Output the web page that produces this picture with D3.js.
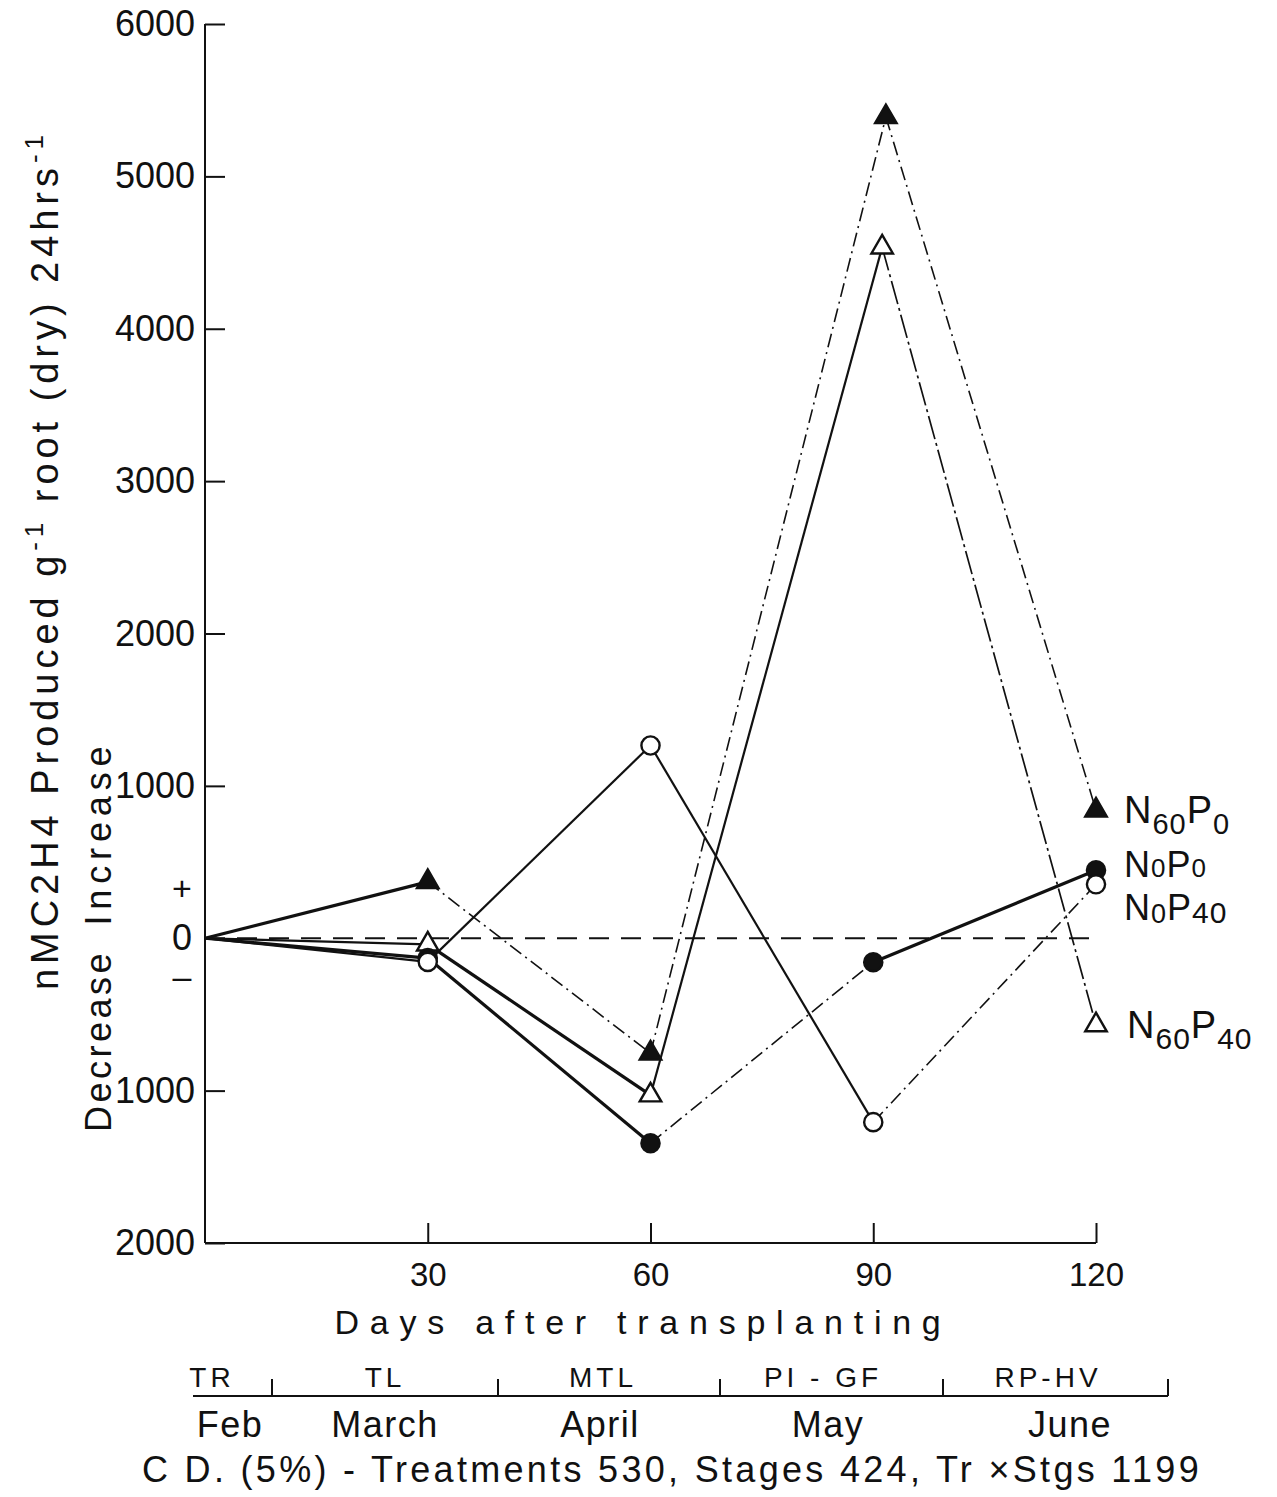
<!DOCTYPE html>
<html><head><meta charset="utf-8">
<script src="https://cdn.jsdelivr.net/npm/d3@7"></script>
<style>body{margin:0;background:#fff}svg{display:block}text{font-family:"Liberation Sans",Arial,sans-serif;fill:#111}</style>
</head><body>
<svg id="c" width="1277" height="1497"></svg>
<script>
// ---- data ----
const dayTicks = [30, 60, 90, 120];
const yTickValues = [-2000, -1000, 1000, 2000, 3000, 4000, 5000, 6000];
const n60p0Days = [0, 30, 60, 91.7, 120];
const n60p0 = [0, 370, -755, 5390, 840];
const n60p40Days = [0, 30, 60, 91.2, 120];
const n60p40 = [0, -40, -1030, 4535, -570];
const n0p0Days = [0, 30, 60, 90, 120];
const n0p0 = [0, -130, -1345, -157, 446];
const n0p40Days = [0, 30, 60, 90, 120];
const n0p40 = [0, -155, 1265, -1207, 354];
const stages = ["TR", "TL", "MTL", "PI - GF", "RP-HV"];
const months = ["Feb", "March", "April", "May", "June"];

// ---- layout ----
const svg = d3.select("#c");
const x = d3.scaleLinear().domain([0, 120]).range([205, 1096]);
const y = d3.scaleLinear().domain([-2000, 6000]).range([1243, 24]);

function fit(sel, target) {
  sel.style("letter-spacing", "0px");
  const node = sel.node();
  const nat = node.getComputedTextLength();
  const n = node.textContent.length;
  sel.style("letter-spacing", ((target - nat) / n) + "px");
  return sel;
}

// axes
const yAxis = d3.axisLeft(y).tickValues(yTickValues).tickSize(-20).tickPadding(10)
  .tickFormat(d => Math.abs(d));
const gy = svg.append("g").attr("transform", `translate(${x(0)},0)`).call(yAxis);
gy.selectAll("path,line").attr("stroke", "#111").attr("stroke-width", 2);
gy.selectAll("text").style("font-size", "36px").attr("fill", "#111");
gy.select(".domain").attr("d", `M0,${y(6000)}V${y(-2000)}`);

const xAxis = d3.axisBottom(x).tickValues(dayTicks).tickSize(-20).tickPadding(20)
  .tickFormat(d => d);
const gx = svg.append("g").attr("transform", `translate(0,${y(-2000)})`).call(xAxis);
gx.selectAll("path,line").attr("stroke", "#111").attr("stroke-width", 2);
gx.select(".domain").attr("d", `M${x(0)},0H${x(120)}`);
gx.selectAll("text").style("font-size", "33px").attr("fill", "#111");

// zero dashed line
svg.append("line").attr("x1", x(0)).attr("x2", x(120.5)).attr("y1", y(0)).attr("y2", y(0))
  .attr("stroke", "#111").attr("stroke-width", 2).attr("stroke-dasharray", "20 12");

// + 0 - signs
svg.append("text").attr("x", 182).attr("y", y(0) - 38).attr("text-anchor", "middle").style("font-size", "34px").text("+");
svg.append("text").attr("x", 182).attr("y", y(0) + 12).attr("text-anchor", "middle").style("font-size", "36px").text("0");
svg.append("text").attr("x", 182).attr("y", y(0) + 50).attr("text-anchor", "middle").style("font-size", "34px").text("–");

// y labels
const yl = svg.append("text").attr("transform", "translate(58,560) rotate(-90)")
  .attr("text-anchor", "middle").style("font-size", "38px");
yl.append("tspan").text("nMC2H4 Produced g");
yl.append("tspan").attr("baseline-shift", "super").style("font-size", "26px").text("-1");
yl.append("tspan").text(" root (dry) 24hrs");
yl.append("tspan").attr("baseline-shift", "super").style("font-size", "26px").text("-1");
fit(yl, 860);

fit(svg.append("text").attr("transform", "translate(111,1041) rotate(-90)").attr("text-anchor", "middle")
  .style("font-size", "36px").text("Decrease"), 182);
fit(svg.append("text").attr("transform", "translate(111,833) rotate(-90)").attr("text-anchor", "middle")
  .style("font-size", "36px").text("Increase"), 185);

// series
const styles = {
  solidThick: {w: 3.2, dash: null},
  solid: {w: 2.2, dash: null},
  dashdot: {w: 1.6, dash: "14 5 2 5"},
  longdash: {w: 1.7, dash: "24 4 3 4"}
};
const series = [
  {days: n60p0Days, vals: n60p0, marker: "tri", fill: "#111", seg: ["solidThick", "dashdot", "dashdot", "dashdot"]},
  {days: n60p40Days, vals: n60p40, marker: "tri", fill: "#fff", seg: ["solid", "solidThick", "solid", "longdash"]},
  {days: n0p0Days, vals: n0p0, marker: "circ", fill: "#111", seg: ["solidThick", "solidThick", "dashdot", "solidThick"]},
  {days: n0p40Days, vals: n0p40, marker: "circ", fill: "#fff", seg: ["solid", "solid", "solid", "dashdot"]}
];
const lineG = svg.append("g");
series.forEach(s => {
  for (let i = 0; i < s.vals.length - 1; i++) {
    const st = styles[s.seg[i]];
    lineG.append("line")
      .attr("x1", x(s.days[i])).attr("y1", y(s.vals[i]))
      .attr("x2", x(s.days[i + 1])).attr("y2", y(s.vals[i + 1]))
      .attr("stroke", "#111").attr("stroke-width", st.w)
      .attr("stroke-dasharray", st.dash);
  }
});
const markG = svg.append("g");
const tri = d3.symbol().type(d3.symbolTriangle).size(200);
const circ = d3.symbol().type(d3.symbolCircle).size(260);
series.forEach(s => {
  s.vals.forEach((v, i) => {
    if (i === 0) return;
    markG.append("path").attr("d", s.marker === "tri" ? tri() : circ())
      .attr("transform", `translate(${x(s.days[i])},${y(v)})`)
      .attr("fill", s.fill).attr("stroke", "#111").attr("stroke-width", 2.4);
  });
});

// legend labels: parts = [text, size, dy]
function label(xp, yp, parts) {
  const t = svg.append("text").attr("x", xp).attr("y", yp).style("font-size", "38px").style("letter-spacing", "1px");
  parts.forEach(p => {
    const ts = t.append("tspan").text(p[0]).style("font-size", p[1] + "px");
    if (p[2]) ts.attr("dy", p[2]);
  });
}
label(1124, 823, [["N", 38], ["60", 29, 11], ["P", 38, -11], ["0", 29, 11]]);
label(1124, 877, [["N", 36], ["0", 26, 0], ["P", 36], ["0", 26, 0]]);
label(1124, 920, [["N", 36], ["0", 27, 3], ["P", 36, -3], ["40", 30, 3]]);
label(1127, 1038, [["N", 38], ["60", 30, 11], ["P", 38, -11], ["40", 30, 11]]);

// x label
fit(svg.append("text").attr("x", 643).attr("y", 1334).attr("text-anchor", "middle")
  .style("font-size", "34px").text("Days after transplanting"), 617);

// stages bar
const stageBounds = [272, 498, 720, 943, 1168];
svg.append("line").attr("x1", 193).attr("x2", 1168).attr("y1", 1396).attr("y2", 1396)
  .attr("stroke", "#111").attr("stroke-width", 2);
stageBounds.forEach(b => svg.append("line").attr("x1", b).attr("x2", b).attr("y1", 1379).attr("y2", 1396)
  .attr("stroke", "#111").attr("stroke-width", 2));
const stageCx = [212, 385, 603, 823, 1048];
stages.forEach((s, i) => svg.append("text").attr("x", stageCx[i]).attr("y", 1387).attr("text-anchor", "middle")
  .style("font-size", "28px").style("letter-spacing", "4px").text(s));
const monthCx = [230, 385, 600, 828, 1070];
months.forEach((m, i) => svg.append("text").attr("x", monthCx[i]).attr("y", 1437).attr("text-anchor", "middle")
  .style("font-size", "36px").style("letter-spacing", "1.5px").text(m));

fit(svg.append("text").attr("x", 672).attr("y", 1482).attr("text-anchor", "middle")
  .style("font-size", "36px").text("C D. (5%) - Treatments 530, Stages 424, Tr ×Stgs 1199"), 1060);
</script>
</body></html>
